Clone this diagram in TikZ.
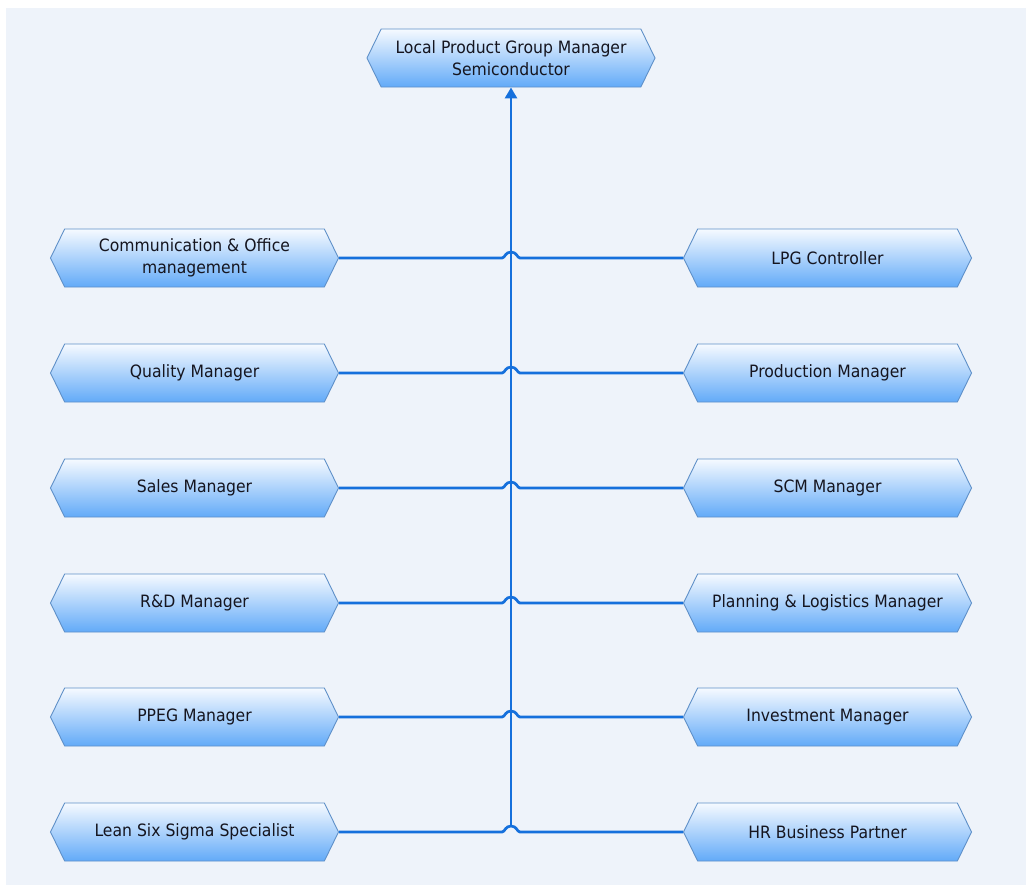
\documentclass[tikz,border=0pt]{standalone}
\usepackage{fontspec}
\setmainfont{DejaVu Sans}[FakeStretch=0.92]
\usetikzlibrary{shapes.symbols,arrows.meta}
\definecolor{bgc}{HTML}{EEF3FA}
\definecolor{boxtop}{HTML}{F6FAFF}
\definecolor{boxbot}{HTML}{62AAF8}
\definecolor{boxborder}{HTML}{5F90C8}
\definecolor{wirec}{HTML}{1570DC}
\definecolor{textc}{HTML}{15151F}
\tikzset{
  box/.style={signal, signal to=west and east, signal pointer angle=128,
    draw=boxborder, line width=0.9pt, top color=boxtop, bottom color=boxbot,
    minimum width=288pt, minimum height=58pt, inner sep=0pt, text=textc,
    align=center, font=\fontsize{17}{22}\selectfont},
  wire/.style={draw=wirec, line width=2.7pt},
}
\begin{document}
\begin{tikzpicture}[x=1pt,y=-1pt]
\useasboundingbox (0,0) rectangle (1026,886);
\fill[bgc] (6,8) rectangle (1026,885);
\node[box] (top) at (511,58) {Local Product Group Manager\\Semiconductor};
\foreach \i/\y/\lt/\rt in {
  1/258/{Communication \& Office\\management}/{LPG Controller},
  2/373/{Quality Manager}/{Production Manager},
  3/488/{Sales Manager}/{SCM Manager},
  4/603/{R\&D Manager}/{Planning \& Logistics Manager},
  5/717/{PPEG Manager}/{Investment Manager},
  6/832/{Lean Six Sigma Specialist}/{HR Business Partner}}{
  \node[box] (L\i) at (194.5,\y) {\lt};
  \node[box] (R\i) at (827.5,\y) {\rt};
  \draw[wire] (L\i.east) -- (502,\y) .. controls (505,\y) and (505,\y-6) .. (511,\y-6)
     .. controls (517,\y-6) and (517,\y) .. (520,\y) -- (R\i.west);
}
\coordinate (jb) at (511,826);
\draw[wire,-{Triangle[length=11pt,width=12pt]}] (jb) -- (top.south);
\end{tikzpicture}
\end{document}
